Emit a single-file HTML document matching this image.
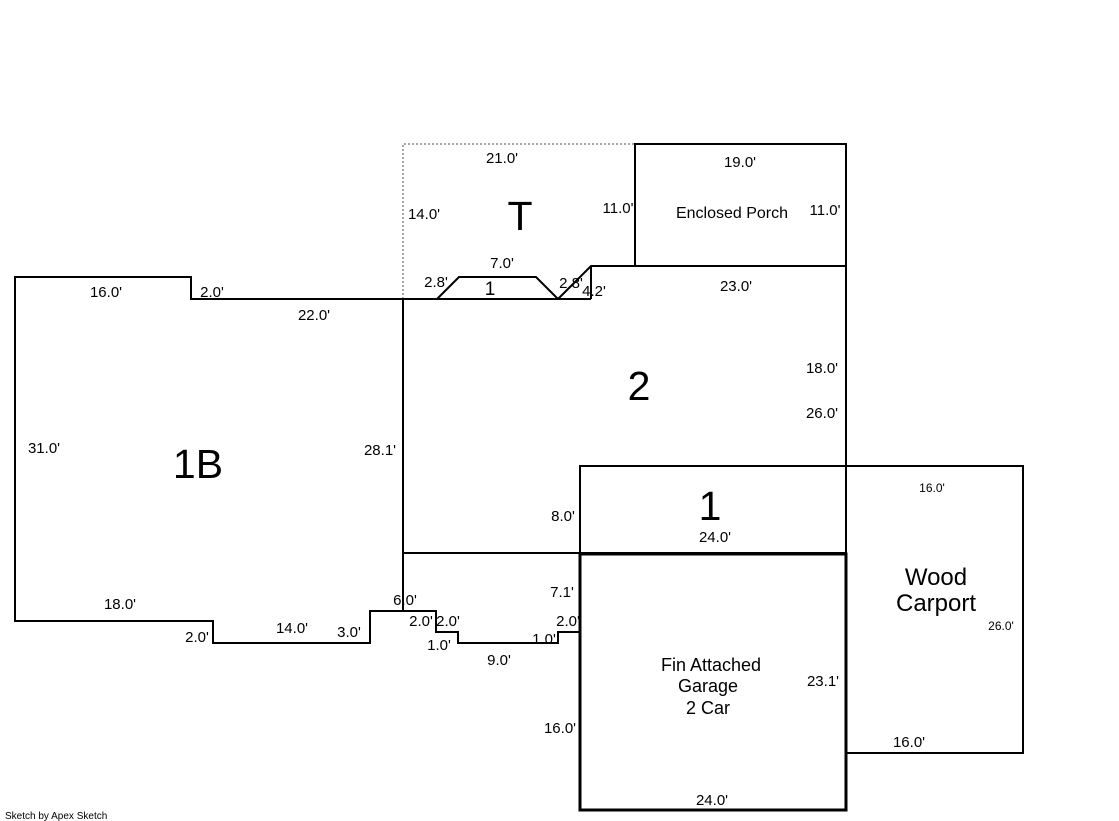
<!DOCTYPE html>
<html><head><style>
html,body{margin:0;padding:0;background:#fff;}
svg{display:block;}
text{font-family:"Liberation Sans",sans-serif;fill:#000;}
.d{font-size:15px;}
.s{font-size:12px;}
.b{font-size:41px;}
</style></head><body>
<svg width="1119" height="821" viewBox="0 0 1119 821" xmlns="http://www.w3.org/2000/svg">
<g fill="none" stroke="#000" stroke-width="2">
<polyline points="403,299 403,144 635,144" stroke="#888" stroke-width="1.5" stroke-dasharray="2,2"/>
<polyline points="403,299 191,299 191,277 15,277 15,621 213,621 213,643 370,643 370,611 436,611 436,632 458,632 458,643 558,643 558,632 580,632"/>
<line x1="403" y1="299" x2="403" y2="611"/>
<line x1="403" y1="299" x2="591" y2="299"/>
<polyline points="437,299 459,277 536,277 558,299"/>
<polyline points="558,299 591,266 846,266"/>
<line x1="591" y1="266" x2="591" y2="299"/>
<line x1="846" y1="144" x2="846" y2="466"/>
<rect x="635" y="144" width="211" height="122"/>
<line x1="403" y1="553" x2="580" y2="553"/>
<rect x="580" y="466" width="266" height="87"/>
<rect x="846" y="466" width="177" height="287"/>
<rect x="580" y="554" width="266" height="256" stroke-width="3"/>
</g>
<text class="d" x="106" y="297" text-anchor="middle">16.0'</text>
<text class="d" x="212" y="297" text-anchor="middle">2.0'</text>
<text class="d" x="314" y="320" text-anchor="middle">22.0'</text>
<text class="d" x="44" y="453" text-anchor="middle">31.0'</text>
<text class="d" x="380" y="455" text-anchor="middle">28.1'</text>
<text class="d" x="120" y="609" text-anchor="middle">18.0'</text>
<text class="d" x="197" y="642" text-anchor="middle">2.0'</text>
<text class="d" x="292" y="633" text-anchor="middle">14.0'</text>
<text class="d" x="349" y="637" text-anchor="middle">3.0'</text>
<text class="d" x="405" y="605" text-anchor="middle">6.0'</text>
<text class="d" x="421" y="626" text-anchor="middle">2.0'</text>
<text class="d" x="448" y="626" text-anchor="middle">2.0'</text>
<text class="d" x="439" y="650" text-anchor="middle">1.0'</text>
<text class="d" x="499" y="665" text-anchor="middle">9.0'</text>
<text class="d" x="544" y="644" text-anchor="middle">1.0'</text>
<text class="d" x="568" y="626" text-anchor="middle">2.0'</text>
<text class="d" x="562" y="597" text-anchor="middle">7.1'</text>
<text class="d" x="563" y="521" text-anchor="middle">8.0'</text>
<text class="d" x="560" y="733" text-anchor="middle">16.0'</text>
<text class="d" x="712" y="805" text-anchor="middle">24.0'</text>
<text class="d" x="823" y="686" text-anchor="middle">23.1'</text>
<text class="d" x="715" y="542" text-anchor="middle">24.0'</text>
<text class="d" x="822" y="373" text-anchor="middle">18.0'</text>
<text class="d" x="822" y="418" text-anchor="middle">26.0'</text>
<text class="d" x="736" y="291" text-anchor="middle">23.0'</text>
<text class="d" x="502" y="163" text-anchor="middle">21.0'</text>
<text class="d" x="424" y="219" text-anchor="middle">14.0'</text>
<text class="d" x="618" y="213" text-anchor="middle">11.0'</text>
<text class="d" x="740" y="167" text-anchor="middle">19.0'</text>
<text class="d" x="825" y="215" text-anchor="middle">11.0'</text>
<text class="d" x="502" y="268" text-anchor="middle">7.0'</text>
<text class="d" x="436" y="287" text-anchor="middle">2.8'</text>
<text class="d" x="571" y="288" text-anchor="middle">2.8'</text>
<text class="d" x="594" y="296" text-anchor="middle">4.2'</text>
<text style="font-size:19px" x="490" y="295" text-anchor="middle">1</text>
<text class="s" x="932" y="492" text-anchor="middle">16.0'</text>
<text class="s" x="1001" y="630" text-anchor="middle">26.0'</text>
<text class="d" x="909" y="747" text-anchor="middle">16.0'</text>
<text class="b" x="198" y="478" text-anchor="middle">1B</text>
<text class="b" x="639" y="400" text-anchor="middle">2</text>
<text class="b" x="520" y="230" text-anchor="middle">T</text>
<text class="b" x="710" y="520" text-anchor="middle">1</text>
<text style="font-size:16px" x="732" y="218" text-anchor="middle">Enclosed Porch</text>
<text style="font-size:24px" x="936" y="585" text-anchor="middle">Wood</text>
<text style="font-size:24px" x="936" y="611" text-anchor="middle">Carport</text>
<text style="font-size:18px" x="711" y="671" text-anchor="middle">Fin Attached</text>
<text style="font-size:18px" x="708" y="692" text-anchor="middle">Garage</text>
<text style="font-size:18px" x="708" y="714" text-anchor="middle">2 Car</text>
<text style="font-size:10px" x="5" y="819">Sketch by Apex Sketch</text>
</svg>
</body></html>
